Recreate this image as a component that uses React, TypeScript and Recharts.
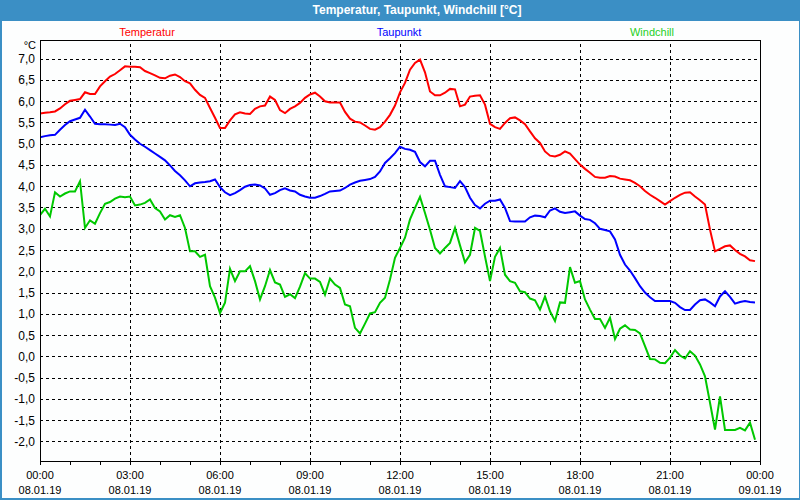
import React from "react";
import { LineChart, Line, XAxis, YAxis, CartesianGrid, ReferenceLine, ReferenceArea } from "recharts";

// 10-minute readings, 08.01.19 00:00 .. 23:50
const temperatur = [
  5.72, 5.74, 5.75, 5.77, 5.84, 5.94, 6.02, 6.04, 6.06, 6.22, 6.18, 6.18,
  6.36, 6.48, 6.59, 6.65, 6.74, 6.83, 6.82, 6.82, 6.81, 6.72, 6.67, 6.62,
  6.56, 6.55, 6.61, 6.64, 6.58, 6.48, 6.43, 6.28, 6.16, 6.09, 5.85, 5.62,
  5.38, 5.38, 5.56, 5.70, 5.75, 5.72, 5.71, 5.83, 5.89, 5.91, 6.12, 6.04,
  5.80, 5.73, 5.83, 5.89, 5.97, 6.09, 6.17, 6.21, 6.12, 6.01, 5.98, 5.98,
  5.98, 5.76, 5.60, 5.53, 5.51, 5.44, 5.36, 5.34, 5.40, 5.53, 5.69, 5.91,
  6.22, 6.44, 6.75, 6.91, 6.99, 6.69, 6.24, 6.15, 6.15, 6.21, 6.30, 6.29,
  5.89, 5.93, 6.12, 6.14, 6.15, 5.93, 5.48, 5.40, 5.36, 5.50, 5.61, 5.63,
  5.56, 5.47, 5.30, 5.14, 5.03, 4.83, 4.73, 4.71, 4.75, 4.83, 4.78, 4.65,
  4.52, 4.42, 4.33, 4.23, 4.21, 4.21, 4.25, 4.24, 4.19, 4.17, 4.15, 4.09,
  4.01, 3.90, 3.81, 3.74, 3.66, 3.58, 3.66, 3.74, 3.81, 3.86, 3.87, 3.77,
  3.68, 3.58, 2.99, 2.48, 2.54, 2.60, 2.62, 2.51, 2.42, 2.36, 2.27, 2.25,
];

const taupunkt = [
  5.16, 5.19, 5.21, 5.22, 5.34, 5.45, 5.54, 5.58, 5.62, 5.81, 5.65, 5.48,
  5.47, 5.47, 5.46, 5.45, 5.48, 5.40, 5.22, 5.11, 5.01, 4.94, 4.86, 4.78,
  4.70, 4.62, 4.50, 4.37, 4.27, 4.15, 4.01, 4.08, 4.10, 4.11, 4.13, 4.17,
  3.99, 3.87, 3.80, 3.85, 3.92, 4.00, 4.04, 4.05, 4.03, 3.96, 3.81, 3.85,
  3.92, 3.96, 3.91, 3.89, 3.81, 3.77, 3.74, 3.74, 3.78, 3.83, 3.89, 3.90,
  3.91, 3.97, 4.05, 4.10, 4.14, 4.16, 4.18, 4.23, 4.36, 4.56, 4.67, 4.79,
  4.94, 4.89, 4.87, 4.82, 4.58, 4.48, 4.61, 4.61, 4.28, 4.01, 3.99, 3.97,
  4.13, 3.99, 3.74, 3.57, 3.49, 3.60, 3.67, 3.67, 3.70, 3.50, 3.19, 3.18,
  3.18, 3.18, 3.28, 3.32, 3.31, 3.28, 3.44, 3.49, 3.41, 3.38, 3.40, 3.42,
  3.32, 3.24, 3.22, 3.14, 3.01, 2.98, 2.95, 2.76, 2.40, 2.17, 2.03, 1.85,
  1.66, 1.51, 1.40, 1.31, 1.31, 1.31, 1.31, 1.27, 1.17, 1.10, 1.10, 1.23,
  1.33, 1.35, 1.28, 1.19, 1.42, 1.54, 1.41, 1.25, 1.29, 1.31, 1.29, 1.28,
];

const windchill = [
  3.33, 3.48, 3.30, 3.87, 3.77, 3.84, 3.89, 3.89, 4.13, 3.03, 3.21, 3.13,
  3.38, 3.60, 3.64, 3.72, 3.77, 3.75, 3.77, 3.56, 3.58, 3.62, 3.70, 3.50,
  3.42, 3.23, 3.33, 3.29, 3.33, 3.03, 2.48, 2.48, 2.35, 2.40, 1.66, 1.39,
  1.03, 1.27, 2.07, 1.78, 2.01, 2.01, 2.13, 1.78, 1.35, 1.66, 2.04, 1.75,
  1.70, 1.41, 1.47, 1.38, 1.65, 1.97, 1.84, 1.84, 1.76, 1.46, 1.84, 1.70,
  1.62, 1.23, 1.19, 0.68, 0.55, 0.78, 1.02, 1.05, 1.27, 1.39, 1.82, 2.33,
  2.56, 2.80, 3.23, 3.50, 3.76, 3.38, 2.99, 2.56, 2.43, 2.56, 2.68, 3.03,
  2.62, 2.22, 2.40, 3.03, 2.96, 2.36, 1.78, 2.35, 2.56, 1.93, 1.78, 1.74,
  1.54, 1.52, 1.37, 1.33, 1.11, 1.42, 1.07, 0.84, 1.28, 1.27, 2.11, 1.74,
  1.78, 1.35, 1.11, 0.89, 0.89, 0.68, 0.92, 0.42, 0.66, 0.74, 0.64, 0.63,
  0.55, 0.25, -0.05, -0.06, -0.14, -0.15, -0.02, 0.16, 0.03, -0.04, 0.13, 0.03,
  -0.18, -0.46, -1.08, -1.71, -0.93, -1.72, -1.72, -1.72, -1.67, -1.73, -1.55, -1.95,
];

const STEP_HOURS = 10 / 60;
const data = temperatur.map((v, i) => ({
  t: i * STEP_HOURS,
  temperatur: v,
  taupunkt: taupunkt[i],
  windchill: windchill[i],
}));

const hourTicks = [0, 1, 2, 3, 4, 5, 6, 7, 8, 9, 10, 11, 12, 13, 14, 15, 16, 17, 18, 19, 20, 21, 22, 23, 24];
const labelHours = [0, 3, 6, 9, 12, 15, 18, 21, 24];
const labelTimes = ["00:00", "03:00", "06:00", "09:00", "12:00", "15:00", "18:00", "21:00", "00:00"];
const labelDates = ["08.01.19", "08.01.19", "08.01.19", "08.01.19", "08.01.19", "08.01.19", "08.01.19", "08.01.19", "09.01.19"];
const gridHours = [3, 6, 9, 12, 15, 18, 21];
const yTicks = [-2, -1.5, -1, -0.5, 0, 0.5, 1, 1.5, 2, 2.5, 3, 3.5, 4, 4.5, 5, 5.5, 6, 6.5, 7];
const Y_MIN = -2.45;
const Y_MAX = 7.45;

const FONT = "'Liberation Sans', Arial, sans-serif";
const BLUE_FRAME = "#3b8fc5";

const XTick = (props: any) => {
  const { x, y, payload } = props;
  const idx = labelHours.indexOf(payload.value);
  if (idx < 0) return <g />;
  return (
    <g>
      <text x={x} y={y + 12} textAnchor="middle" fontSize={11} fontFamily={FONT} fill="#000">
        {labelTimes[idx]}
      </text>
      <text x={x} y={y + 27} textAnchor="middle" fontSize={11} fontFamily={FONT} fill="#000">
        {labelDates[idx]}
      </text>
    </g>
  );
};

const YTick = (props: any) => {
  const { x, y, payload } = props;
  const label = Number(payload.value).toFixed(1).replace(".", ",");
  return (
    <text x={x} y={y + 4} textAnchor="end" fontSize={12} fontFamily={FONT} fill="#000">
      {label}
    </text>
  );
};

const legendItems = [
  { name: "Temperatur", color: "#ff0000", cx: 147 },
  { name: "Taupunkt", color: "#0000ff", cx: 399 },
  { name: "Windchill", color: "#1fcf1f", cx: 652 },
];

export default function App() {
  return (
    <div style={{ position: "absolute", left: 0, top: 0, width: 800, height: 500, background: "#fdfefe", overflow: "hidden", fontFamily: FONT }}>
      <div
        style={{
          position: "absolute", left: 0, top: 0, width: 800, height: 21, background: BLUE_FRAME,
        }}
      />
      <div
        style={{
          position: "absolute", left: 417, top: 0, height: 21, lineHeight: "21px", transform: "translateX(-50%)",
          color: "#ffffff", fontWeight: "bold", fontSize: 12, whiteSpace: "nowrap",
        }}
      >
        Temperatur, Taupunkt, Windchill [°C]
      </div>
      {legendItems.map((it) => (
        <div
          key={it.name}
          style={{
            position: "absolute", left: it.cx, top: 25, lineHeight: "14px", fontSize: 11,
            transform: "translateX(-50%)", color: it.color, whiteSpace: "nowrap",
          }}
        >
          {it.name}
        </div>
      ))}
      <div style={{ position: "absolute", right: 764, top: 38, lineHeight: "14px", fontSize: 11, color: "#000", whiteSpace: "nowrap" }}>
        °C
      </div>
      <div style={{ position: "absolute", left: 0, top: 0 }}>
        <LineChart width={800} height={500} data={data} margin={{ top: 40, right: 40, bottom: 0, left: 0 }}>
          <CartesianGrid vertical={false} stroke="#000" strokeDasharray="3 3" shapeRendering="crispEdges" />
          {gridHours.map((h) => (
            <ReferenceLine key={h} x={h} stroke="#000" strokeDasharray="3 3" shapeRendering="crispEdges" />
          ))}
          <XAxis
            dataKey="t"
            type="number"
            domain={[0, 24]}
            ticks={hourTicks}
            interval={0}
            height={39}
            tickSize={4}
            tickMargin={2}
            stroke="#000"
            axisLine={{ stroke: "#000", shapeRendering: "crispEdges" }}
            tickLine={{ stroke: "#000", shapeRendering: "crispEdges" }}
            tick={<XTick />}
            allowDataOverflow
          />
          <YAxis
            type="number"
            domain={[Y_MIN, Y_MAX]}
            ticks={yTicks}
            interval={0}
            width={40}
            tickLine={false}
            tickSize={0}
            tickMargin={5}
            stroke="#000"
            axisLine={{ stroke: "#000", shapeRendering: "crispEdges" }}
            tick={<YTick />}
            allowDataOverflow
          />
          <ReferenceArea x1={0} x2={24} y1={Y_MIN} y2={Y_MAX} fill="none" fillOpacity={0} stroke="#000" strokeWidth={1} shapeRendering="crispEdges" />
          <Line type="linear" dataKey="temperatur" stroke="#ff0000" strokeWidth={2} dot={false} isAnimationActive={false} />
          <Line type="linear" dataKey="taupunkt" stroke="#0000ff" strokeWidth={2} dot={false} isAnimationActive={false} />
          <Line type="linear" dataKey="windchill" stroke="#00c800" strokeWidth={2} dot={false} isAnimationActive={false} />
        </LineChart>
      </div>
      <div
        style={{
          position: "absolute", left: 0, top: 0, width: 800, height: 500, boxSizing: "border-box",
          borderLeft: `2px solid ${BLUE_FRAME}`, borderRight: `1px solid ${BLUE_FRAME}`, borderBottom: `2px solid ${BLUE_FRAME}`,
          pointerEvents: "none",
        }}
      />
    </div>
  );
}
